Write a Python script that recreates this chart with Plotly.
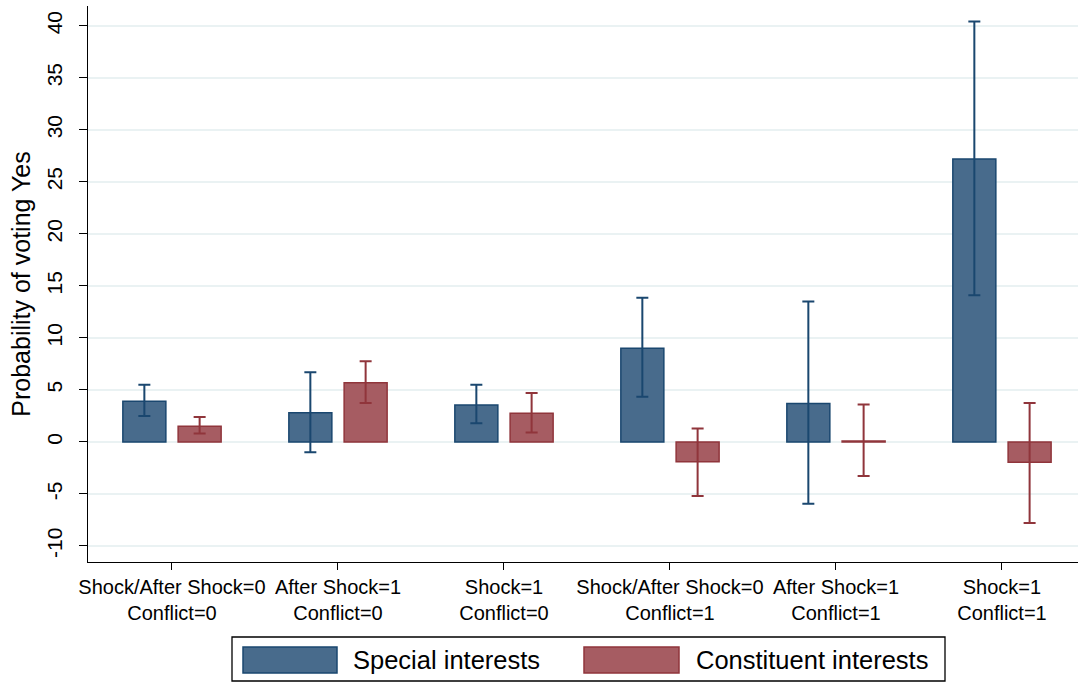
import plotly.graph_objects as go

categories = ["Shock/After Shock=0<br>Conflict=0", "After Shock=1<br>Conflict=0", "Shock=1<br>Conflict=0",
              "Shock/After Shock=0<br>Conflict=1", "After Shock=1<br>Conflict=1", "Shock=1<br>Conflict=1"]
special = [3.9, 2.8, 3.55, 9.0, 3.7, 27.2]
special_hi = [5.5, 6.7, 5.5, 13.85, 13.5, 40.4]
special_lo = [2.5, -1.0, 1.8, 4.35, -5.95, 14.1]
constituent = [1.5, 5.7, 2.75, -1.9, 0.1, -1.95]
constituent_hi = [2.4, 7.75, 4.7, 1.3, 3.6, 3.75]
constituent_lo = [0.8, 3.75, 0.9, -5.2, -3.27, -7.8]
yticks = [-10, -5, 0, 5, 10, 15, 20, 25, 30, 35, 40]

NAVY = "#1a476f"
MAROON = "#90353b"
BLUE_FILL = "#486b8c"
RED_FILL = "#a65c62"
FONT = "Liberation Sans, Arial, sans-serif"

L, T, B = 88, 6, 562          # plot area pixel edges
PW, PH = 1078 - L, B - T

fig = go.Figure()
fig.add_trace(go.Bar(
    x=categories, y=special, name="Special interests",
    marker=dict(color=BLUE_FILL, line=dict(color=NAVY, width=1.5)),
    error_y=dict(type="data", symmetric=False,
                 array=[h - v for h, v in zip(special_hi, special)],
                 arrayminus=[v - l for v, l in zip(special, special_lo)],
                 color=NAVY, thickness=2, width=6),
))
fig.add_trace(go.Bar(
    x=categories, y=constituent, name="Constituent interests",
    marker=dict(color=RED_FILL, line=dict(color=MAROON, width=1.5)),
    error_y=dict(type="data", symmetric=False,
                 array=[h - v for h, v in zip(constituent_hi, constituent)],
                 arrayminus=[v - l for v, l in zip(constituent, constituent_lo)],
                 color=MAROON, thickness=2, width=6),
))

fig.update_layout(
    width=1078, height=682,
    margin=dict(l=L, r=0, t=T, b=682 - B),
    paper_bgcolor="white", plot_bgcolor="white",
    font=dict(family=FONT, color="black"),
    barmode="group", bargap=0.334, bargroupgap=0.222,
    showlegend=False,
)
fig.update_xaxes(
    range=[-0.506, 5.458], showgrid=False, showline=True, linecolor="black", linewidth=1.3,
    ticks="outside", ticklen=7, tickcolor="black", tickwidth=1.3,
    tickfont=dict(size=20, family=FONT, color="black"), automargin=False,
)
fig.update_yaxes(
    range=[-11.54, 41.9], tickvals=yticks, ticktext=[str(v) for v in yticks],
    showgrid=True, gridcolor="#eaf2f3", gridwidth=1.5, zeroline=False,
    showline=True, linecolor="black", linewidth=1.3,
    ticks="outside", ticklen=8, tickcolor="black", tickwidth=1.3,
    tickangle=-90, tickfont=dict(size=21, family=FONT, color="black"),
    ticklabelstandoff=8, automargin=False,
    title=dict(text="Probability of voting Yes", font=dict(size=25, family=FONT, color="black"), standoff=5),
)

# Legend (drawn box with large swatches, Stata style)
def fx(p):
    return (p - L) / PW

def fy(p):
    return (B - p) / PH

fig.add_shape(type="rect", xref="paper", yref="paper",
              x0=fx(232), x1=fx(945), y0=fy(681), y1=fy(637),
              line=dict(color="black", width=1.3), fillcolor="white")
legend_items = [(fig.data[0].name, BLUE_FILL, NAVY, 243, 337, 351),
                (fig.data[1].name, RED_FILL, MAROON, 584, 679, 694)]
for name, fill, edge, sx0, sx1, tx in legend_items:
    fig.add_shape(type="rect", xref="paper", yref="paper",
                  x0=fx(sx0), x1=fx(sx1), y0=fy(673), y1=fy(647),
                  line=dict(color=edge, width=1.5), fillcolor=fill)
    fig.add_annotation(xref="paper", yref="paper", x=fx(tx), y=fy(660),
                       text=name, showarrow=False, xanchor="left", yanchor="middle",
                       font=dict(size=25.5, family=FONT, color="black"))

fig.write_html("out.html", config={"displayModeBar": False},
               post_script="document.body.style.margin='0px';")
